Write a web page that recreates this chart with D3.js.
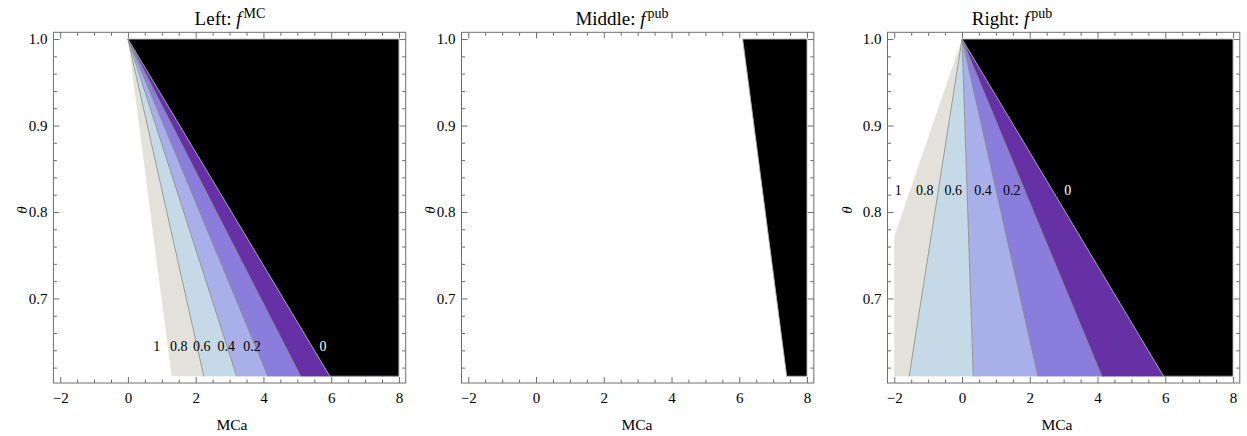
<!DOCTYPE html>
<html>
<head>
<meta charset="utf-8">
<script src="https://cdn.jsdelivr.net/npm/d3@7"></script>
<style>
  body { margin: 0; background: #fff; }
  text { font-family: "Liberation Serif", "DejaVu Serif", serif; }
</style>
</head>
<body>
<svg width="1247" height="436"></svg>
<script>
// Contour levels and the fill used below each level (painted high to low)
var levels = [1, 0.8, 0.6, 0.4, 0.2, 0];
var levelLabels = ["1", "0.8", "0.6", "0.4", "0.2", "0"];
var bandColors = ["#e2e2da", "#c6d9e6", "#a9afe8", "#8a7ddc", "#6531a5", "#000000"];

// Plotted domain
var xRange = [-2, 8];
var thetaRange = [0.61, 1];
var xTicks = [-2, 0, 2, 4, 6, 8];
var yTicks = [0.7, 0.8, 0.9, 1.0];

// Contour lines, [start, end] in (MCa, theta)
var leftLines = [
  [[0, 1], [1.29, 0.61]],
  [[0, 1], [2.24, 0.61]],
  [[0, 1], [3.21, 0.61]],
  [[0, 1], [4.13, 0.61]],
  [[0, 1], [5.10, 0.61]],
  [[0, 1], [5.96, 0.61]]
];
var middleLines = [
  [[6.1, 1], [7.4, 0.61]]
];
var rightLines = [
  [[0, 1], [-2, 0.772]],
  [[0, 1], [-1.56, 0.61]],
  [[0, 1], [0.33, 0.61]],
  [[0, 1], [2.24, 0.61]],
  [[0, 1], [4.13, 0.61]],
  [[0, 1], [5.95, 0.61]]
];

// Contour label positions
var leftLabelX = [0.85, 1.5, 2.18, 2.9, 3.66, 5.76];
var leftLabelTheta = 0.645;
var rightLabelX = [-1.88, -1.1, -0.26, 0.62, 1.47, 3.12];
var rightLabelTheta = 0.825;

var svg = d3.select("svg");
var W = 352.3, H = 350.7, top0 = 32.3;
var frameColor = "#6e6e6e";

var panels = [
  { left: 53.4, title: "Left: ", sup: "MC", titleX: 230, labelX: 232, thetaX: 22,
    lines: leftLines, lev: levels, labX: leftLabelX, labT: leftLabelTheta },
  { left: 461.5, title: "Middle: ", sup: "pub", titleX: 622, labelX: 637, thetaX: 430,
    lines: middleLines, lev: [0], labX: [], labT: 0 },
  { left: 887.5, title: "Right: ", sup: "pub", titleX: 1012, labelX: 1057, thetaX: 847,
    lines: rightLines, lev: levels, labX: rightLabelX, labT: rightLabelTheta }
];

panels.forEach(function(p) {
  var x = d3.scaleLinear().domain([-2.2, 8.2]).range([0, W]);
  var y = d3.scaleLinear().domain([0.6022, 1.0078]).range([H, 0]);
  var g = svg.append("g").attr("transform", "translate(" + p.left + "," + top0 + ")");

  var line = d3.line().x(function(d) { return x(d[0]); }).y(function(d) { return y(d[1]); });

  // region lying right of a contour line inside the domain
  function regionRight(l) {
    var pts = [l[0], l[1]];
    if (l[1][1] > thetaRange[0] + 1e-9) pts.push([xRange[0], thetaRange[0]]);
    pts.push([xRange[1], thetaRange[0]], [xRange[1], thetaRange[1]]);
    return pts;
  }

  g.selectAll("path.band")
    .data(p.lines)
    .enter().append("path")
    .attr("class", "band")
    .attr("d", function(d) { return line(regionRight(d)) + "Z"; })
    .attr("fill", function(d, i) { return bandColors[levels.indexOf(p.lev[i])]; })
    .attr("stroke", function(d, i) { return p.lev[i] === 0 ? "#b4b4b4" : "none"; })
    .attr("stroke-width", 0.9);

  // contour lines between coloured bands
  g.selectAll("path.cline")
    .data(p.lines.filter(function(d, i) { return p.lev[i] !== 1 && p.lev[i] !== 0; }))
    .enter().append("path")
    .attr("class", "cline")
    .attr("d", function(d) { return line(d); })
    .attr("fill", "none")
    .attr("stroke", "#8c8c8c")
    .attr("stroke-width", 0.8);

  // contour labels
  g.selectAll("text.clab")
    .data(p.labX)
    .enter().append("text")
    .attr("class", "clab")
    .attr("x", function(d) { return x(d); })
    .attr("y", y(p.labT))
    .attr("dy", "0.35em")
    .attr("text-anchor", "middle")
    .attr("font-size", 14)
    .attr("fill", function(d, i) { return p.lev[i] === 0 ? "#fff" : "#000"; })
    .text(function(d, i) { return levelLabels[i]; });

  // axes
  var minorX = d3.range(-2, 8.01, 0.5).filter(function(v) { return xTicks.indexOf(v) < 0; });
  var minorY = d3.range(31, 50).map(function(v) { return v * 0.02; })
    .filter(function(v) { return Math.abs(v * 10 - Math.round(v * 10)) > 1e-6; });

  function styleAxis(a) {
    a.select(".domain").remove();
    a.attr("font-family", null).attr("font-size", 15);
    a.selectAll("line").attr("stroke", frameColor);
    a.selectAll("text").attr("fill", "#000");
  }

  g.append("g").attr("transform", "translate(0," + H + ")")
    .call(d3.axisBottom(x).tickValues(xTicks).tickSize(-6).tickPadding(9)).call(styleAxis);
  g.append("g").attr("transform", "translate(0," + H + ")")
    .call(d3.axisBottom(x).tickValues(minorX).tickSize(-3.5).tickFormat("")).call(styleAxis);
  g.append("g")
    .call(d3.axisTop(x).tickValues(xTicks).tickSize(-6).tickFormat("")).call(styleAxis);
  g.append("g")
    .call(d3.axisTop(x).tickValues(minorX).tickSize(-3.5).tickFormat("")).call(styleAxis);
  g.append("g")
    .call(d3.axisLeft(y).tickValues(yTicks).tickSize(-6).tickPadding(6).tickFormat(d3.format(".1f"))).call(styleAxis);
  g.append("g")
    .call(d3.axisLeft(y).tickValues(minorY).tickSize(-3.5).tickFormat("")).call(styleAxis);
  g.append("g").attr("transform", "translate(" + W + ",0)")
    .call(d3.axisRight(y).tickValues(yTicks).tickSize(-6).tickFormat("")).call(styleAxis);
  g.append("g").attr("transform", "translate(" + W + ",0)")
    .call(d3.axisRight(y).tickValues(minorY).tickSize(-3.5).tickFormat("")).call(styleAxis);

  // frame
  g.append("rect")
    .attr("width", W).attr("height", H)
    .attr("fill", "none")
    .attr("stroke", frameColor)
    .attr("stroke-width", 1);

  // axis labels
  svg.append("text")
    .attr("x", p.labelX).attr("y", 430)
    .attr("text-anchor", "middle")
    .attr("font-size", 15.5)
    .text("MCa");
  svg.append("text")
    .attr("transform", "translate(" + p.thetaX + ",210) rotate(-90)")
    .attr("text-anchor", "middle")
    .attr("dy", "0.35em")
    .attr("font-size", 15)
    .attr("font-style", "italic")
    .text("θ");

  // title
  var t = svg.append("text")
    .attr("x", p.titleX).attr("y", 25)
    .attr("text-anchor", "middle")
    .attr("font-size", 19);
  t.append("tspan").text(p.title);
  t.append("tspan").attr("font-style", "italic").text("f");
  t.append("tspan").attr("font-size", 14).attr("dx", 2).attr("dy", -7).text(p.sup);
});
</script>
</body>
</html>
